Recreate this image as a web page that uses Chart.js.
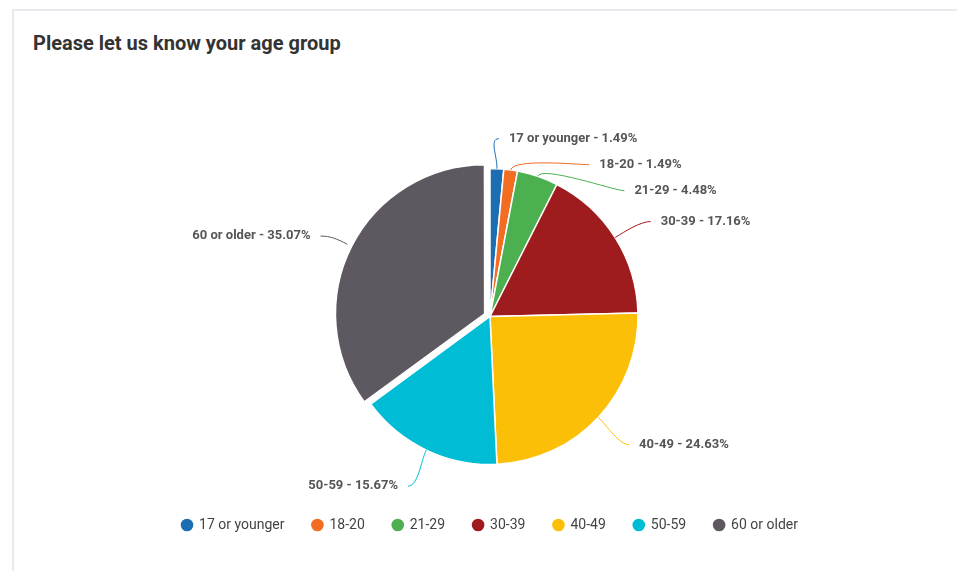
<!DOCTYPE html>
<html>
<head>
<meta charset="utf-8">
<script src="https://cdn.jsdelivr.net/npm/chart.js@4/dist/chart.umd.min.js"></script>
<style>
  html, body { margin: 0; padding: 0; background: #fff; }
  body { width: 957px; height: 571px; position: relative; overflow: hidden; font-family: Roboto, sans-serif; }
  .card { position: absolute; left: 12px; top: 9px; width: 980px; height: 600px; border: 2px solid #e7eaee; box-sizing: border-box; }
  .title { position: absolute; left: 33px; top: 31px; font: bold 20px Roboto, sans-serif; color: #333; margin: 0; }
  #wrap { position: absolute; left: 0; top: 0; width: 957px; height: 571px; }
</style>
</head>
<body>
<div class="card"></div>
<h3 class="title">Please let us know your age group</h3>
<div id="wrap"><canvas id="age-pie"></canvas></div>
<script>
const categories = ["17 or younger", "18-20", "21-29", "30-39", "40-49", "50-59", "60 or older"];
const percentages = [1.49, 1.49, 4.48, 17.16, 24.63, 15.67, 35.07];
const colors = ["#1c6db2", "#f26c22", "#4caf50", "#9e1b1e", "#fcbf07", "#00bcd4", "#5e5960"];
const offsets = [0, 0, 0, 0, 0, 0, 24];

// outside labels with leader lines
const outsideLabels = {
  id: "outsideLabels",
  afterDatasetsDraw(chart) {
    const ctx = chart.ctx;
    const arcs = chart.getDatasetMeta(0).data;
    const items = arcs.map((arc, i) => {
      const mid = (arc.startAngle + arc.endAngle) / 2;
      const r = arc.outerRadius;
      const cx = arc.x, cy = arc.y;
      const dx = Math.cos(mid), dy = Math.sin(mid);
      const ry = dy < 0 ? r + 30 : r + 40;
      return { i, cx, cy, r, dx, dy, ry, rx: r + 42, y: cy + dy * ry, right: dx >= 0 };
    });
    [true, false].forEach((side) => {
      const group = items.filter((it) => it.right === side).sort((a, b) => a.y - b.y);
      for (let k = 1; k < group.length; k++) {
        if (group[k].y < group[k - 1].y + 26) group[k].y = group[k - 1].y + 26;
      }
    });
    ctx.save();
    items.forEach((it) => {
      const off = offsets[it.i] / 2;
      const sign = it.right ? 1 : -1;
      const t = (it.y - it.cy) / it.ry;
      const lx = it.cx + sign * it.rx * Math.sqrt(Math.max(0, 1 - t * t));
      const ex = it.cx + it.dx * (it.r + off), ey = it.cy + it.dy * (it.r + off);
      const bx = it.cx + it.dx * (it.r + off + 12), by = it.cy + it.dy * (it.r + off + 12);
      ctx.strokeStyle = colors[it.i];
      ctx.lineWidth = 1;
      ctx.beginPath();
      ctx.moveTo(ex, ey);
      ctx.bezierCurveTo(bx, by, lx - sign * 10, it.y, lx, it.y);
      ctx.stroke();
      ctx.fillStyle = "#555";
      ctx.font = "bold 13px Roboto";
      ctx.textBaseline = "middle";
      ctx.textAlign = it.right ? "left" : "right";
      ctx.fillText(categories[it.i] + " - " + percentages[it.i].toFixed(2) + "%", lx + sign * 10, it.y);
    });
    ctx.restore();
  },
};

new Chart(document.getElementById("age-pie"), {
  type: "pie",
  data: {
    labels: categories,
    datasets: [
      {
        data: percentages,
        backgroundColor: colors,
        borderColor: "#fff",
        borderWidth: 1.5,
        offset: offsets,
        radius: 148,
      },
    ],
  },
  options: {
    responsive: true,
    maintainAspectRatio: false,
    animation: false,
    events: [],
    layout: {
      padding: { left: 40, right: 17, top: 143, bottom: 29 },
    },
    plugins: {
      tooltip: { enabled: false },
      legend: {
        position: "bottom",
        labels: {
          usePointStyle: true,
          pointStyle: "circle",
          boxWidth: 10,
          boxHeight: 10,
          padding: 28,
          color: "#444",
          font: { family: "Roboto", size: 14 },
        },
      },
    },
  },
  plugins: [outsideLabels],
});
</script>
</body>
</html>
